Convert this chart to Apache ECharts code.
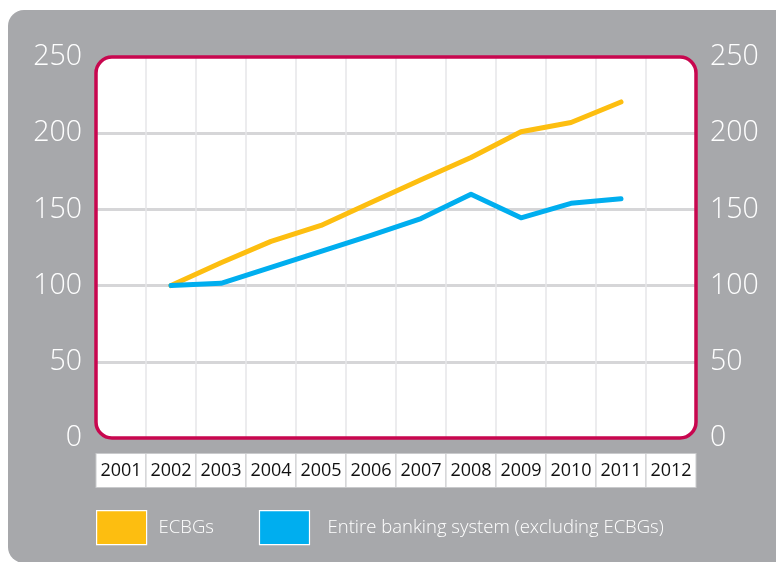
<!DOCTYPE html>
<html><head><meta charset="utf-8">
<script src="https://cdn.jsdelivr.net/npm/echarts@6/dist/echarts.min.js"></script>
<style>html,body{margin:0;padding:0;background:#fff;}#c{width:776px;height:562px;}</style>
</head><body><div id="c"></div>
<script>
const years = ['2001','2002','2003','2004','2005','2006','2007','2008','2009','2010','2011','2012'];
const ecbgs = [null, 100, 115, 129, 139.5, 154.5, 169.5, 184, 201, 207, 220.5, null];
const entire = [null, 100, 101.5, 112, 122.5, 133, 144, 160, 144.5, 154, 157, null];
const yTicks = [0, 50, 100, 150, 200, 250];
const seriesNames = ['ECBGs', 'Entire banking system (excluding ECBGs)'];

const G = {left: 96, top: 57, right: 80, bottom: 124};
const W = 776, H = 562;
const chart = echarts.init(document.getElementById('c'), null, {renderer: 'canvas'});
const yLabel = {color: '#fff', fontSize: 28.5, fontFamily: 'Open Sans', fontWeight: 300, margin: 14};
chart.setOption({
  backgroundColor: '#fff',
  animation: false,
  graphic: [
    {type: 'rect', z: -20, shape: {x: 8, y: 10, width: 800, height: 553, r: [16, 0, 0, 16]}, style: {fill: '#A7A8AB'}},
    {type: 'rect', z: -10, shape: {x: G.left, y: G.top, width: W - G.left - G.right, height: H - G.top - G.bottom, r: 16}, style: {fill: '#fff'}},
    {type: 'rect', z: 100, shape: {x: G.left, y: G.top, width: W - G.left - G.right, height: H - G.top - G.bottom, r: 16}, style: {fill: 'none', stroke: '#C8074F', lineWidth: 3.5}}
  ],
  grid: {left: G.left, top: G.top, right: G.right, bottom: G.bottom, containLabel: false},
  legend: {
    left: 96, top: 510, padding: 0, itemWidth: 50, itemHeight: 34, itemGap: 45, icon: 'rect',
    itemStyle: {borderColor: '#fff', borderWidth: 1.2},
    textStyle: {color: '#fff', fontSize: 18.5, fontFamily: 'Open Sans', fontWeight: 300},
    data: [
      {name: seriesNames[0], textStyle: {padding: [0, 0, 0, 7]}},
      {name: seriesNames[1], textStyle: {padding: [0, 0, 0, 13]}}
    ]
  },
  xAxis: {
    type: 'category', data: years, boundaryGap: true,
    axisLine: {show: false}, axisTick: {show: false},
    splitLine: {show: true, interval: 0, showMinLine: false, showMaxLine: false, lineStyle: {color: '#E6E6E8', width: 1.5}},
    axisLabel: {
      interval: 0, margin: 16, color: '#111', fontSize: 18, fontFamily: 'Open Sans',
      backgroundColor: '#fff', borderColor: '#C9CACC', borderWidth: 1,
      width: 49, height: 33, lineHeight: 33, align: 'center', verticalAlign: 'top'
    }
  },
  yAxis: [
    {type: 'value', min: 0, max: 250, interval: 50, position: 'left',
     axisLine: {show: false}, axisTick: {show: false},
     splitLine: {show: true, showMinLine: false, showMaxLine: false, lineStyle: {color: '#D6D6D8', width: 3}},
     axisLabel: yLabel},
    {type: 'value', min: 0, max: 250, interval: 50, position: 'right',
     axisLine: {show: false}, axisTick: {show: false}, splitLine: {show: false},
     axisLabel: yLabel}
  ],
  series: [
    {name: seriesNames[0], type: 'line', data: ecbgs, symbol: 'none', color: '#FDBE10', z: 5,
     lineStyle: {width: 5, cap: 'round', join: 'round', color: '#FDBE10'}},
    {name: seriesNames[1], type: 'line', data: entire, symbol: 'none', color: '#00AEEF', z: 6,
     lineStyle: {width: 5, cap: 'round', join: 'round', color: '#00AEEF'}}
  ]
});
</script></body></html>
